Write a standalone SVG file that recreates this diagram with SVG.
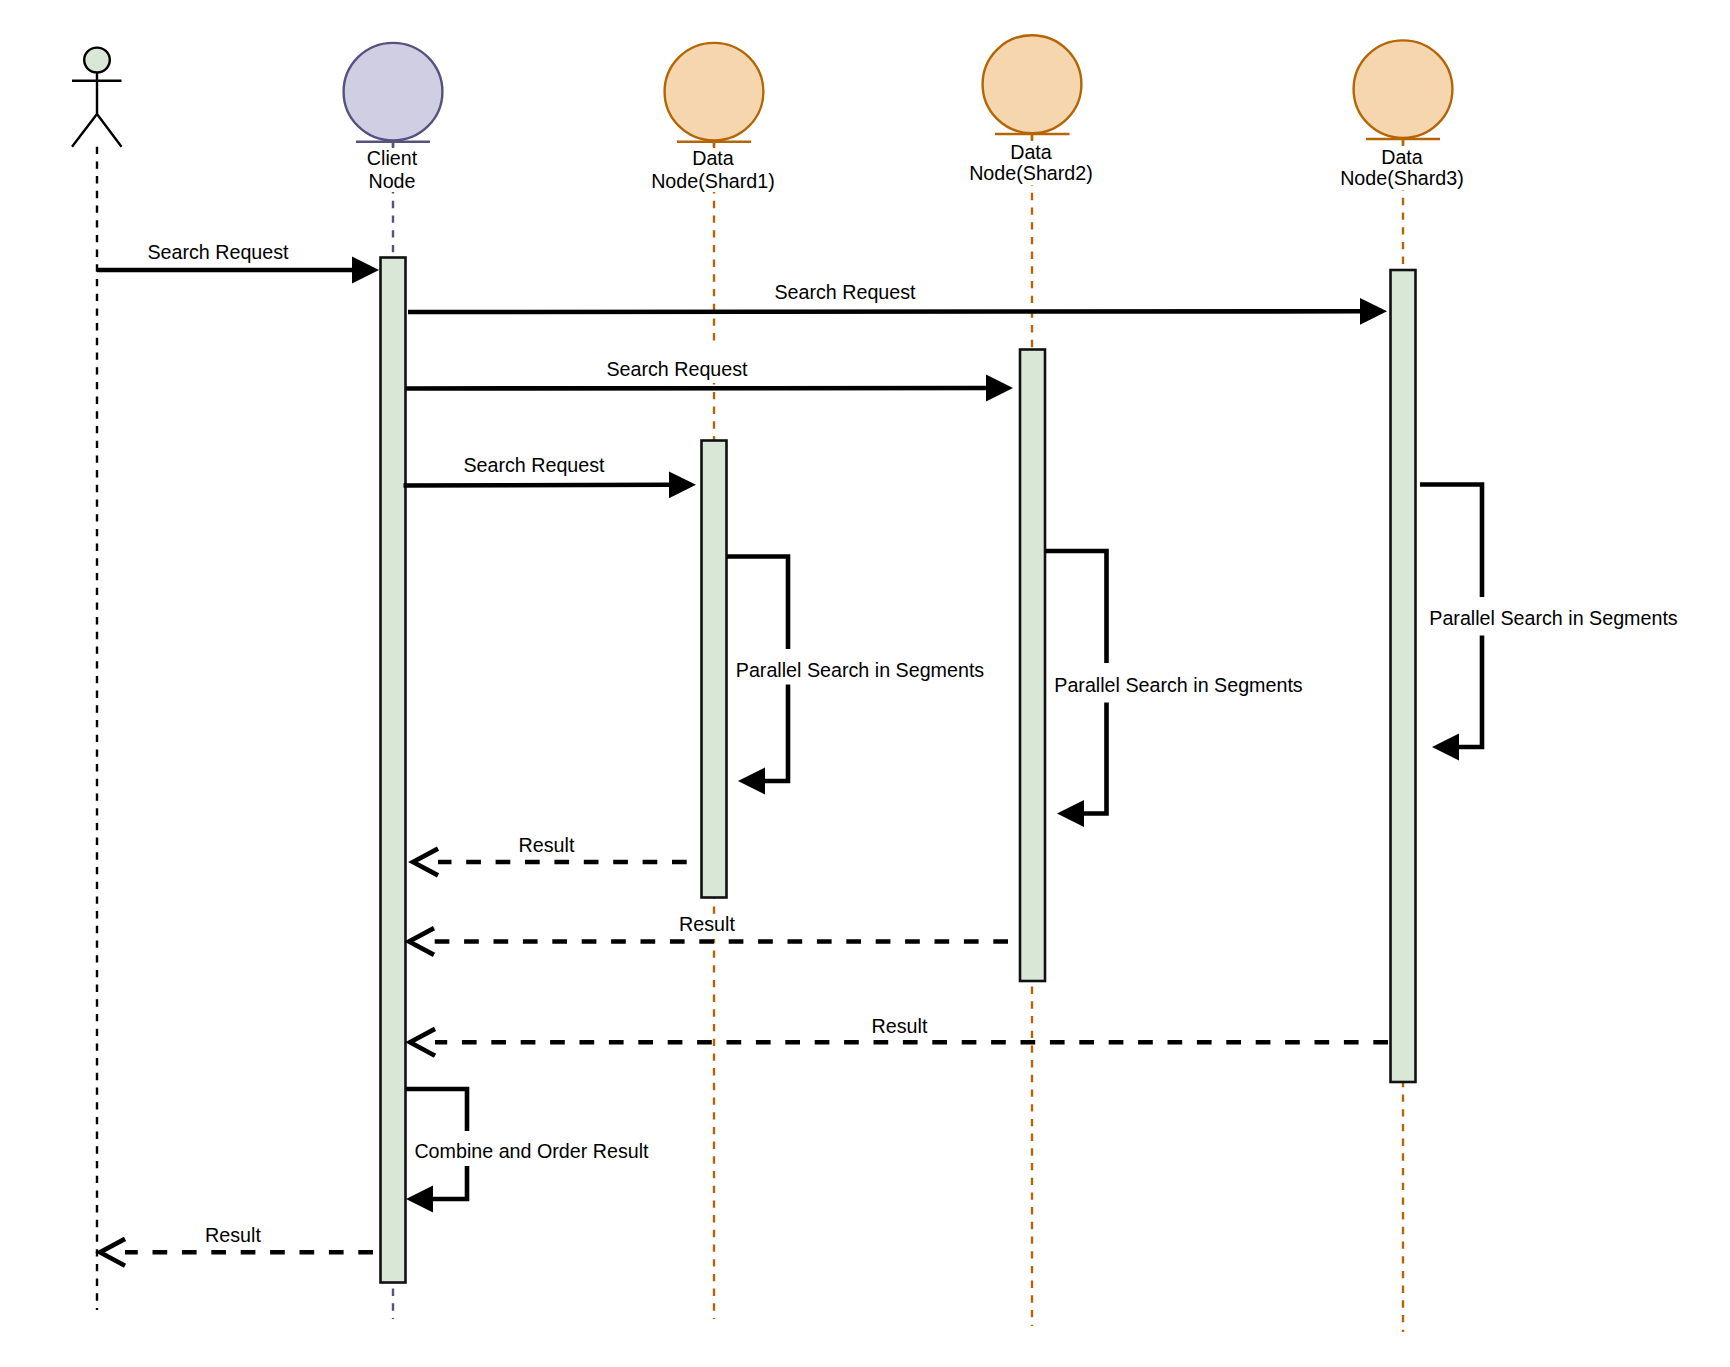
<svg xmlns="http://www.w3.org/2000/svg" width="1730" height="1367" viewBox="0 0 1730 1367">
<style>
text{font-family:"Liberation Sans",Arial,sans-serif;font-size:19.7px;fill:#000;text-anchor:middle}
.bg{fill:#fff;stroke:none}
.life{fill:none;stroke-width:2.4;stroke-dasharray:7.35}
.k{stroke:#000}.p{stroke:#56517e}.o{stroke:#b46504}
.act{fill:#d9e7d6;stroke:#111;stroke-width:2.6}
.cli{fill:#d0cee2;stroke:#56517e;stroke-width:2.4}
.dat{fill:#f5d6ae;stroke:#b46504;stroke-width:2.4}
.msg{fill:none;stroke:#000;stroke-width:4.6;marker-end:url(#fill)}
.ret{fill:none;stroke:#000;stroke-width:4.6;stroke-dasharray:14.7;marker-end:url(#open)}
.fig{fill:none;stroke:#000;stroke-width:2.4}
</style>
<defs>
<marker id="fill" markerUnits="userSpaceOnUse" viewBox="-2 -16 32 32" markerWidth="32" markerHeight="32" refX="0" refY="0" orient="auto"><path d="M0,-13.4L27,0L0,13.4Z" fill="#000"/></marker>
<marker id="open" markerUnits="userSpaceOnUse" viewBox="-4 -18 36 36" markerWidth="36" markerHeight="36" refX="0" refY="0" orient="auto"><path d="M0,-13.4L25,0L0,13.4" fill="none" stroke="#000" stroke-width="4.6"/></marker>
</defs>
<g id="lifelines">
<path class="life k" d="M97,146.7V1310"/>
<path class="life p" d="M393,142V1319"/>
<path class="life o" d="M714,142V1319"/>
<path class="life o" d="M1032,134V1326"/>
<path class="life o" d="M1403,139V1332"/>
</g>
<g id="actor">
<ellipse cx="97" cy="60" rx="12.8" ry="12.4" fill="#d9e7d6" stroke="#000" stroke-width="2.4"/>
<path class="fig" d="M97,72.7V114M72,80.7H121.5M72,146.7L97,114L121.5,146.7"/>
</g>
<g id="client-node">
<ellipse class="cli" cx="393" cy="91.7" rx="49.4" ry="48.8"/>
<path d="M356,141.7H430M393,141.7V147" class="cli"/>
<rect class="bg" x="360" y="148" width="66" height="44"/>
<text x="392" y="165">Client</text><text x="392" y="188">Node</text>
</g>
<g id="data-node-1">
<ellipse class="dat" cx="714" cy="91.7" rx="49.4" ry="48.8"/>
<path d="M677,141.7H751M714,141.7V147" class="dat"/>
<rect class="bg" x="650" y="148" width="128" height="44"/>
<text x="713" y="165">Data</text><text x="713" y="188">Node(Shard1)</text>
</g>
<g id="data-node-2">
<ellipse class="dat" cx="1032" cy="84.2" rx="49.4" ry="49"/>
<path d="M995,134H1069.5M1032,134V140" class="dat"/>
<rect class="bg" x="968" y="141" width="128" height="44"/>
<text x="1031" y="158.5">Data</text><text x="1031" y="180">Node(Shard2)</text>
</g>
<g id="data-node-3">
<ellipse class="dat" cx="1403" cy="89.2" rx="49.4" ry="48.8"/>
<path d="M1366,139H1440M1403,139V145" class="dat"/>
<rect class="bg" x="1339" y="146" width="128" height="44"/>
<text x="1402" y="163.5">Data</text><text x="1402" y="185">Node(Shard3)</text>
</g>
<g id="activation-client"><rect class="act" x="380.5" y="257.5" width="25" height="1025"/></g>
<g id="activation-shard1"><rect class="act" x="701.5" y="440.5" width="25" height="457"/></g>
<g id="activation-shard2"><rect class="act" x="1020" y="349.5" width="25" height="631.5"/></g>
<g id="activation-shard3"><rect class="act" x="1390.5" y="270" width="25" height="812"/></g>
<g id="connectors">
<path class="msg" d="M97,270H352"/>
<path class="msg" d="M408,312L1360,311.3"/>
<path class="msg" d="M406,388.5L986,388"/>
<path class="msg" d="M403.5,485.5L669,484.8"/>
<path class="msg" d="M727,556.5H788V781H765"/>
<path class="msg" d="M1045,551H1106.5V813.5H1084"/>
<path class="msg" d="M1420,484.5H1482V747H1459"/>
<path class="msg" d="M406,1089H467V1199H433"/>
<path class="ret" d="M686.7,862H438"/>
<path class="ret" d="M1008,941.5H434"/>
<path class="ret" d="M1388,1042.3H435"/>
<path class="ret" d="M373,1252.3H125"/>
</g>
<g id="labels">
<text x="218" y="259">Search Request</text>
<text x="845" y="298.5">Search Request</text>
<rect class="bg" x="704" y="343" width="20" height="40"/>
<text x="677" y="375.5">Search Request</text>
<text x="534" y="472">Search Request</text>
<rect class="bg" x="736" y="649" width="249" height="35.5"/>
<text x="860" y="677">Parallel Search in Segments</text>
<rect class="bg" x="1054" y="663" width="249" height="39.5"/>
<text x="1178.5" y="692">Parallel Search in Segments</text>
<rect class="bg" x="1429" y="597" width="249" height="38.5"/>
<text x="1553.5" y="625">Parallel Search in Segments</text>
<rect class="bg" x="414" y="1131" width="235" height="35"/>
<text x="531.5" y="1157.5">Combine and Order Result</text>
<text x="546.5" y="851.5">Result</text>
<rect class="bg" x="704" y="914" width="20" height="25"/>
<text x="707" y="930.5">Result</text>
<text x="899.5" y="1033">Result</text>
<text x="233" y="1242">Result</text>
</g>
</svg>
